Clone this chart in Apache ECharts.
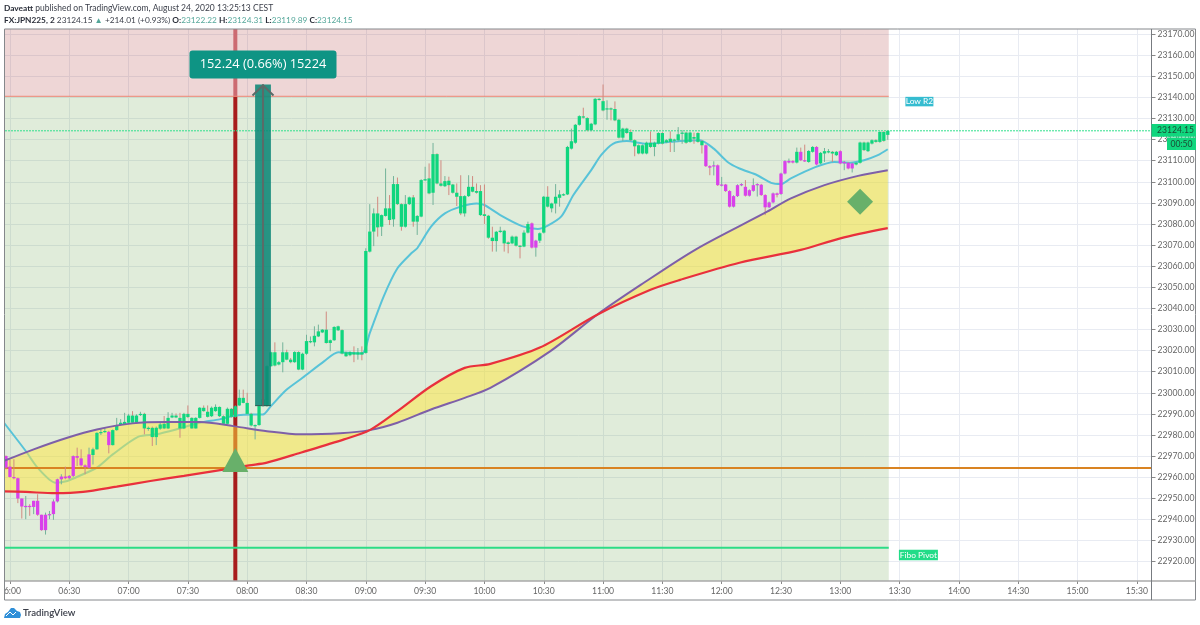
<!DOCTYPE html>
<html>
<head>
<meta charset="utf-8">
<title>FX:JPN225, 2</title>
<script src="https://cdn.jsdelivr.net/npm/echarts@6/dist/echarts.min.js"></script>
<style>
    html, body { margin: 0; padding: 0; background: #fff; }
    #chart { width: 1200px; height: 625px; }
</style>
</head>
<body>
<div id="chart"></div>
<script>
// bars are 2 minutes apart, x values are minutes after midnight
var firstBar = 358;
var barStep = 2;

var opens = [
    22970.0, 22965.0, 22960.1, 22959.5, 22949.9, 22945.8, 22946.4, 22945.9,
    22948.8, 22942.2, 22934.9, 22942.0, 22942.5, 22948.5, 22959.0, 22960.3,
    22959.5, 22960.6, 22970.0, 22968.9, 22965.6, 22964.5, 22970.5, 22973.2,
    22980.9, 22981.4, 22981.5, 22975.2, 22982.3, 22984.7, 22985.0, 22985.8,
    22989.2, 22985.8, 22989.6, 22990.0, 22983.0, 22983.4, 22979.0, 22983.0,
    22985.3, 22983.1, 22988.3, 22989.2, 22988.1, 22983.1, 22990.0, 22988.1,
    22983.1, 22988.1, 22992.9, 22991.0, 22988.9, 22991.3, 22993.3, 22988.9,
    22985.3, 22992.4, 22988.6, 22994.0, 22997.6, 22995.2, 22990.0, 22984.5,
    22984.7, 22993.7, 22993.7, 23012.6, 23019.2, 23013.4, 23014.5, 23019.2,
    23015.7, 23014.5, 23019.3, 23011.0, 23018.5, 23024.0, 23023.9, 23026.7,
    23028.6, 23029.9, 23023.6, 23024.9, 23029.6, 23029.7, 23019.2, 23017.8,
    23019.2, 23018.1, 23019.2, 23018.9, 23066.9, 23076.4, 23085.0, 23078.7,
    23083.8, 23087.4, 23082.2, 23098.9, 23089.4, 23078.7, 23089.4, 23092.6,
    23081.1, 23083.5, 23100.8, 23101.6, 23094.8, 23113.1, 23099.2, 23097.9,
    23100.5, 23098.7, 23094.8, 23093.2, 23085.0, 23093.2, 23097.6, 23095.6,
    23095.6, 23084.6, 23083.9, 23073.5, 23071.9, 23076.2, 23076.8, 23071.3,
    23070.8, 23074.0, 23069.7, 23069.3, 23075.9, 23080.3, 23068.8, 23072.1,
    23075.9, 23092.9, 23087.4, 23089.7, 23092.4, 23093.7, 23094.0, 23115.7,
    23118.5, 23127.0, 23131.0, 23130.2, 23124.4, 23127.2, 23139.3, 23138.2,
    23134.3, 23134.8, 23134.5, 23129.4, 23120.9, 23125.2, 23123.6, 23119.7,
    23117.3, 23113.4, 23113.4, 23118.5, 23116.5, 23118.1, 23123.1, 23118.7,
    23120.4, 23119.7, 23119.7, 23122.8, 23123.3, 23118.9, 23121.2, 23123.1,
    23119.3, 23117.3, 23107.4, 23107.4, 23107.8, 23098.2, 23098.7, 23095.6,
    23088.2, 23093.2, 23098.3, 23097.6, 23093.4, 23095.7, 23098.4, 23098.6,
    23093.7, 23087.9, 23090.2, 23094.5, 23094.2, 23103.9, 23109.1, 23109.8,
    23109.1, 23114.2, 23110.2, 23109.4, 23114.2, 23116.5, 23108.7, 23113.4,
    23113.9, 23114.2, 23112.6, 23114.5, 23108.7, 23109.0, 23106.3, 23108.2,
    23109.0, 23118.6, 23114.5, 23118.1, 23119.7, 23118.9, 23123.6, 23122.22
];
var closes = [
    22964.5, 22960.1, 22959.5, 22949.9, 22946.1, 22946.4, 22945.9, 22948.8,
    22942.2, 22934.9, 22942.2, 22942.5, 22948.5, 22959.0, 22960.3, 22959.5,
    22960.6, 22970.0, 22969.2, 22965.6, 22964.8, 22970.8, 22973.2, 22981.0,
    22981.4, 22981.9, 22975.2, 22982.3, 22984.7, 22985.8, 22986.2, 22989.2,
    22985.8, 22989.2, 22990.0, 22983.1, 22983.4, 22979.0, 22983.4, 22985.0,
    22983.1, 22988.1, 22989.2, 22988.3, 22983.1, 22990.0, 22988.5, 22983.1,
    22988.1, 22992.9, 22991.3, 22988.6, 22992.9, 22993.3, 22988.9, 22985.3,
    22992.4, 22988.6, 22993.6, 22997.6, 22995.2, 22990.0, 22984.5, 22984.7,
    22993.7, 22996.8, 23012.6, 23019.2, 23012.9, 23014.5, 23019.2, 23015.7,
    23014.5, 23019.3, 23011.0, 23018.5, 23024.5, 23024.5, 23027.0, 23029.1,
    23029.9, 23023.6, 23024.9, 23031.2, 23031.5, 23018.6, 23017.3, 23019.3,
    23018.1, 23019.2, 23018.1, 23067.2, 23076.4, 23085.0, 23078.4, 23084.2,
    23087.4, 23081.9, 23098.9, 23089.4, 23078.7, 23089.4, 23092.6, 23081.1,
    23083.8, 23100.8, 23101.2, 23094.5, 23113.1, 23099.2, 23098.1, 23100.3,
    23098.4, 23094.8, 23092.9, 23085.0, 23093.2, 23097.6, 23095.3, 23094.8,
    23084.2, 23083.8, 23073.5, 23071.9, 23076.3, 23076.8, 23070.8, 23070.5,
    23074.0, 23069.7, 23069.3, 23075.9, 23080.0, 23068.8, 23072.1, 23075.6,
    23092.9, 23088.2, 23089.7, 23092.9, 23094.0, 23094.1, 23116.5, 23119.2,
    23127.0, 23131.1, 23130.4, 23124.4, 23127.5, 23139.3, 23138.9, 23133.8,
    23134.8, 23134.3, 23129.1, 23120.9, 23125.2, 23123.1, 23119.7, 23116.8,
    23113.4, 23117.3, 23118.5, 23116.5, 23118.5, 23123.1, 23118.1, 23119.7,
    23118.9, 23120.0, 23122.5, 23123.3, 23118.5, 23123.3, 23120.4, 23118.9,
    23117.3, 23107.4, 23106.7, 23107.8, 23098.4, 23098.7, 23095.6, 23088.2,
    23093.2, 23098.4, 23098.9, 23093.4, 23096.0, 23098.4, 23098.9, 23093.7,
    23087.9, 23090.2, 23094.5, 23093.8, 23103.9, 23109.8, 23109.9, 23109.1,
    23114.2, 23110.2, 23109.8, 23114.6, 23116.5, 23108.2, 23113.7, 23114.5,
    23114.5, 23113.4, 23114.2, 23108.7, 23109.4, 23106.3, 23108.7, 23109.0,
    23118.6, 23115.0, 23118.6, 23119.7, 23118.9, 23123.6, 23119.4, 23124.15
];
var highs = [
    22970.3, 22968.5, 22968.5, 22959.8, 22949.9, 22951.1, 22947.2, 22948.8,
    22951.9, 22942.2, 22943.2, 22944.0, 22949.5, 22959.3, 22961.4, 22965.0,
    22961.0, 22970.3, 22974.0, 22973.2, 22966.1, 22974.0, 22974.0, 22981.3,
    22983.0, 22983.4, 22982.0, 22982.6, 22988.1, 22987.5, 22990.5, 22990.0,
    22991.3, 22989.8, 22991.0, 22990.5, 22984.0, 22984.0, 22984.0, 22986.0,
    22989.0, 22990.8, 22990.5, 22990.2, 22990.5, 22990.5, 22994.0, 22988.4,
    22988.4, 22993.2, 22994.0, 22994.0, 22993.5, 22994.5, 22993.5, 22989.3,
    22993.0, 22992.8, 22994.0, 23001.5, 23001.5, 23000.0, 22990.5, 22985.0,
    22994.0, 22997.2, 23013.0, 23019.5, 23023.9, 23015.0, 23023.9, 23020.4,
    23016.5, 23019.7, 23019.7, 23019.0, 23027.5, 23026.7, 23031.5, 23032.3,
    23030.2, 23038.5, 23025.2, 23031.5, 23031.8, 23030.0, 23019.5, 23019.7,
    23022.0, 23021.2, 23022.0, 23068.5, 23089.4, 23087.4, 23092.9, 23084.5,
    23106.3, 23093.7, 23102.7, 23102.0, 23089.8, 23093.7, 23093.0, 23093.7,
    23084.2, 23101.2, 23107.1, 23108.7, 23118.4, 23113.5, 23110.2, 23102.7,
    23102.4, 23099.0, 23099.2, 23103.1, 23093.6, 23103.1, 23102.7, 23099.2,
    23098.4, 23098.7, 23084.3, 23078.7, 23076.7, 23078.7, 23077.2, 23071.8,
    23074.5, 23074.4, 23070.0, 23077.0, 23081.1, 23080.7, 23072.5, 23076.0,
    23093.3, 23097.9, 23090.1, 23098.9, 23096.0, 23094.5, 23117.0, 23125.2,
    23127.4, 23131.5, 23135.1, 23130.6, 23127.9, 23139.7, 23139.7, 23146.1,
    23138.6, 23135.2, 23138.1, 23129.8, 23125.6, 23125.6, 23124.8, 23120.1,
    23117.7, 23117.7, 23119.0, 23123.9, 23119.0, 23123.5, 23123.5, 23120.2,
    23123.9, 23120.4, 23125.9, 23124.4, 23123.7, 23123.7, 23123.3, 23123.5,
    23119.7, 23117.7, 23107.8, 23109.7, 23108.2, 23102.3, 23099.0, 23096.0,
    23093.6, 23098.8, 23099.3, 23100.8, 23096.4, 23101.6, 23099.3, 23099.0,
    23094.1, 23090.6, 23094.9, 23094.9, 23104.3, 23110.2, 23111.0, 23110.2,
    23116.2, 23116.2, 23117.6, 23115.0, 23116.9, 23116.9, 23114.1, 23116.0,
    23115.5, 23114.6, 23114.6, 23114.9, 23109.9, 23109.4, 23109.1, 23109.4,
    23119.0, 23119.0, 23119.0, 23120.1, 23120.1, 23124.0, 23124.0, 23124.31
];
var lows = [
    22963.7, 22959.8, 22959.0, 22947.7, 22940.4, 22940.1, 22941.7, 22942.5,
    22941.7, 22934.6, 22932.8, 22940.1, 22939.8, 22948.0, 22956.6, 22959.0,
    22959.0, 22960.0, 22965.3, 22965.0, 22961.4, 22964.0, 22966.0, 22973.0,
    22980.0, 22981.0, 22971.3, 22975.0, 22982.0, 22984.5, 22984.8, 22985.5,
    22985.5, 22985.5, 22989.0, 22980.3, 22982.0, 22974.8, 22975.2, 22982.5,
    22982.8, 22982.8, 22988.0, 22988.0, 22978.7, 22982.8, 22988.0, 22983.0,
    22983.0, 22987.8, 22991.0, 22988.3, 22988.5, 22991.0, 22988.5, 22985.0,
    22985.0, 22988.2, 22988.2, 22993.7, 22995.0, 22989.8, 22984.0, 22977.9,
    22984.4, 22993.4, 22993.4, 23012.3, 23012.5, 23013.0, 23009.7, 23015.4,
    23014.0, 23014.2, 23010.7, 23010.7, 23018.0, 23023.5, 23022.0, 23026.4,
    23028.3, 23023.3, 23019.7, 23024.6, 23029.3, 23018.2, 23017.0, 23017.3,
    23014.5, 23015.7, 23015.4, 23018.5, 23066.5, 23069.5, 23074.0, 23074.3,
    23083.5, 23079.5, 23078.7, 23089.0, 23076.8, 23078.3, 23089.0, 23078.7,
    23074.8, 23083.2, 23100.5, 23094.1, 23089.0, 23098.8, 23097.7, 23097.5,
    23093.7, 23094.4, 23088.5, 23084.2, 23083.5, 23092.8, 23095.0, 23094.4,
    23083.8, 23080.0, 23073.0, 23066.9, 23066.9, 23075.8, 23066.9, 23066.1,
    23070.4, 23069.3, 23063.7, 23069.0, 23075.5, 23068.4, 23064.5, 23071.0,
    23075.5, 23087.8, 23085.5, 23085.0, 23088.2, 23093.3, 23093.7, 23115.3,
    23118.0, 23126.6, 23130.0, 23124.0, 23124.0, 23126.8, 23138.5, 23133.4,
    23129.4, 23129.1, 23128.7, 23120.5, 23119.3, 23122.7, 23119.3, 23112.1,
    23113.0, 23113.0, 23113.0, 23116.1, 23112.1, 23117.7, 23117.7, 23118.3,
    23114.1, 23114.1, 23119.0, 23118.0, 23118.0, 23118.5, 23118.0, 23118.5,
    23113.4, 23107.0, 23103.1, 23103.0, 23098.0, 23097.8, 23095.2, 23087.8,
    23087.8, 23092.8, 23097.9, 23093.0, 23093.0, 23095.3, 23093.0, 23093.3,
    23084.2, 23087.5, 23089.8, 23092.6, 23093.8, 23103.5, 23108.7, 23108.7,
    23108.7, 23109.8, 23109.4, 23109.0, 23113.8, 23107.8, 23108.3, 23109.4,
    23113.5, 23109.4, 23112.2, 23108.3, 23105.5, 23105.9, 23104.4, 23107.8,
    23108.6, 23114.6, 23114.1, 23117.7, 23118.5, 23118.5, 23119.0, 23119.89
];
// bar index ranges painted magenta, everything else is green
var magentaRuns = [[0, 21], [26, 26], [133, 134], [177, 199], [201, 202], [205, 205], [211, 214]];

var fastTimes = [357, 368, 374, 383, 389, 397, 404, 412, 425, 434, 444, 456, 466, 474, 483, 488,
    492, 500, 508, 519, 526, 538, 542, 549, 556, 563, 566, 573, 580, 588, 596,
    600, 608, 619, 627, 632, 639, 645, 654, 659, 665, 672, 682, 699, 709, 716, 723,
    729, 738, 745, 750, 755, 767, 777, 785, 792, 799, 804];
var fastValues = [22985.8, 22972.4, 22964.5, 22957.4, 22958.2, 22961.4, 22964.5, 22970.8, 22979.2, 22980.3, 22982.6, 22985.8, 22987.4, 22989.2, 22989.7, 22989.7,
    22993.7, 23001.5, 23007.1, 23015.0, 23019.2, 23018.6, 23028.3, 23045.6, 23059.0, 23066.1, 23068.5, 23078.7, 23085.0, 23088.2, 23089.7,
    23089.0, 23084.2, 23079.0, 23077.6, 23079.2, 23083.7, 23093.7, 23105.5, 23112.6, 23118.0, 23119.3, 23118.0, 23119.3, 23119.7, 23115.7, 23109.4,
    23106.3, 23103.1, 23099.5, 23098.9, 23101.6, 23106.8, 23109.4, 23109.0, 23110.2, 23112.6, 23115.4];

var slowTimes = [357, 372, 389, 404, 422, 439, 456, 473, 490, 507, 527, 542, 556, 573, 590, 603, 633, 657, 679, 707, 743, 755, 772, 789, 804];
var slowValues = [22967.7, 22973.2, 22978.7, 22982.6, 22985.5, 22986.1, 22986.1, 22984.2, 22981.8, 22980.3, 22980.8, 22982.3, 22985.8, 22992.1, 22997.6, 23002.3, 23019.5, 23037.0, 23051.1, 23068.0, 23085.8, 23092.1, 23098.4, 23102.8, 23105.5];

var baseTimes = [357, 368, 383, 397, 414, 431, 448, 464, 481, 490, 507, 529, 542, 556, 573, 590, 603, 628, 657, 684, 699, 729, 760, 780, 804];
var baseValues = [22953.3, 22953.0, 22952.4, 22953.0, 22955.5, 22958.2, 22960.6, 22963.0, 22965.6, 22966.9, 22971.6, 22977.9, 22982.3, 22991.3, 23003.1, 23011.8, 23013.7, 23021.4, 23037.0, 23048.8, 23053.5, 23061.6, 23067.7, 23073.2, 23078.0];

var xMin = 357.5, xMax = 937.4;
var yMin = 22910.8, yMax = 23172.4;
var xTicks = [360, 390, 420, 450, 480, 510, 540, 570, 600, 630, 660, 690, 720, 750, 780, 810, 840, 870, 900, 930];
var yTicks = [22920, 22930, 22940, 22950, 22960, 22970, 22980, 22990, 23000, 23010, 23020, 23030, 23040, 23050,
    23060, 23070, 23080, 23090, 23100, 23110, 23120, 23130, 23140, 23150, 23160, 23170];

var bandEnd = 804.5;
var lowR2 = 23140.5, fiboPivot = 22926.5, orangeLevel = 22964.4, lastPrice = 23124.15;
var entryTime = 474;                // red vertical line and the triangle
var measureLeft = 484, measureRight = 492, measureLow = 22993.9, measureHigh = 23146.14;
var measureText = '152.24 (0.66%) 15224';

function isMagenta(i) {
    return magentaRuns.some(function (r) { return i >= r[0] && i <= r[1]; });
}

var candleData = [];
for (var i = 0; i < opens.length; i++) {
    candleData.push([firstBar + i * barStep, opens[i], closes[i], lows[i], highs[i], isMagenta(i) ? 1 : 0]);
}

function zip(xs, ys) {
    return xs.map(function (x, k) { return [x, ys[k]]; });
}

function flatLine(name, value, right, color, width, z, type) {
    return {
        name: name, type: 'line', z: z, silent: true, symbol: 'none', clip: true,
        data: [[xMin, value], [right, value]],
        lineStyle: { color: color, width: width, type: type || 'solid' }
    };
}

function renderBand(params, api) {
    var a = api.coord([api.value(0), api.value(2)]);
    var b = api.coord([api.value(1), api.value(3)]);
    return {
        type: 'rect',
        shape: { x: a[0], y: a[1], width: b[0] - a[0], height: b[1] - a[1] },
        style: { fill: api.value(4) === 1 ? 'rgba(170,50,50,0.2)' : 'rgba(100,160,70,0.2)' }
    };
}

function renderCandle(params, api) {
    var t = api.value(0), o = api.value(1), c = api.value(2);
    var top = api.coord([t, Math.max(o, c)]);
    var bottom = api.coord([t, Math.min(o, c)]);
    var hi = api.coord([t, api.value(4)]);
    var lo = api.coord([t, api.value(3)]);
    var w = 3.3;
    return {
        type: 'group',
        children: [{
            type: 'line',
            shape: { x1: hi[0], y1: hi[1], x2: lo[0], y2: lo[1] },
            style: { stroke: c >= o ? '#74b39a' : '#d18a80', lineWidth: 1 }
        }, {
            type: 'rect',
            shape: { x: top[0] - w / 2, y: top[1], width: w, height: Math.max(bottom[1] - top[1], 1.2) },
            style: { fill: api.value(5) === 1 ? '#d941ea' : '#10d67e' }
        }]
    };
}

function renderFill(params, api) {
    var pts = [];
    slowTimes.forEach(function (t, k) { pts.push(api.coord([t, slowValues[k]])); });
    for (var k = baseTimes.length - 1; k >= 0; k--) {
        pts.push(api.coord([baseTimes[k], baseValues[k]]));
    }
    return { type: 'polygon', shape: { points: pts }, style: { fill: 'rgba(255,230,59,0.5)' } };
}

function renderMeasure(params, api) {
    var a = api.coord([measureLeft, measureHigh]);
    var b = api.coord([measureRight, measureLow]);
    var mid = (a[0] + b[0]) / 2;
    return {
        type: 'group',
        children: [{
            type: 'rect',
            shape: { x: a[0], y: a[1], width: b[0] - a[0], height: b[1] - a[1] },
            style: { fill: 'rgba(13,135,118,0.88)' }
        }, {
            type: 'line',
            shape: { x1: a[0], y1: b[1], x2: b[0], y2: b[1] },
            style: { stroke: '#2c5a52', lineWidth: 1 }
        }, {
            type: 'line',
            shape: { x1: mid, y1: a[1], x2: mid, y2: b[1] },
            style: { stroke: '#5b6b68', lineWidth: 2 }
        }, {
            type: 'polyline',
            shape: { points: [[mid - 10.5, a[1] + 11], [mid, a[1] + 1], [mid + 10.5, a[1] + 11]] },
            style: { stroke: '#5b6b68', lineWidth: 2, fill: null }
        }, {
            type: 'rect',
            shape: { x: mid - 73.5, y: a[1] - 34, width: 147, height: 28, r: 3 },
            style: { fill: '#0e9484' }
        }, {
            type: 'text',
            style: {
                x: mid, y: a[1] - 20, text: measureText, fill: '#fff', align: 'center', verticalAlign: 'middle',
                font: '12.8px "Open Sans", sans-serif'
            }
        }]
    };
}

var header1 = '{b|Daveatt} published on TradingView.com, August 24, 2020 13:25:13 CEST';
var header2 = '{b|FX:JPN225, 2} 23124.15 {t|▲} +214.01 (+0.93%) {b|O:}{t|23122.22} {b|H:}{t|23124.31} {b|L:}{t|23119.89} {b|C:}{t|23124.15}';
var headerRich = {
    b: { fontWeight: 'bold', fontFamily: 'Lato', fontSize: 8.3, fill: '#2a2e39' },
    t: { fontFamily: 'Lato', fontSize: 8.3, fill: '#53a699' }
};

var chart = echarts.init(document.getElementById('chart'));
chart.setOption({
    animation: false,
    backgroundColor: '#fff',
    grid: { left: 5, top: 29, width: 1146.5, height: 552, show: false, outerBoundsMode: 'none' },
    xAxis: {
        type: 'value', min: xMin, max: xMax,
        axisLine: { show: false },
        axisTick: { length: 3, lineStyle: { color: '#888' }, customValues: xTicks },
        splitLine: { show: true, lineStyle: { color: '#e8ebf2', width: 1 } },
        axisLabel: {
            customValues: xTicks, margin: 6, color: '#666', fontSize: 8.6, fontFamily: 'Lato',
            formatter: function (v) {
                var h = Math.floor(v / 60), m = v % 60;
                return (h < 10 ? '0' : '') + h + ':' + (m < 10 ? '0' : '') + m;
            }
        }
    },
    yAxis: {
        type: 'value', position: 'right', min: yMin, max: yMax,
        axisLine: { show: false },
        axisTick: { length: 4, lineStyle: { color: '#888' }, customValues: yTicks },
        splitLine: { show: true, lineStyle: { color: '#e8ebf2', width: 1 } },
        axisLabel: {
            customValues: yTicks, margin: 6, color: '#666', fontSize: 8.6, fontFamily: 'Lato',
            formatter: function (v) { return v.toFixed(2); }
        }
    },
    series: [
        {
            name: 'zones', type: 'custom', z: 1, silent: true, clip: true, renderItem: renderBand,
            data: [[xMin, bandEnd, yMax, lowR2, 1], [xMin, bandEnd, lowR2, yMin, 0]]
        },
        {
            name: 'entry', type: 'line', z: 2, silent: true, symbol: 'none',
            data: [[entryTime, yMin], [entryTime, lowR2]],
            lineStyle: { color: '#a81c1c', width: 4 }
        },
        {
            name: 'entry top', type: 'line', z: 2, silent: true, symbol: 'none',
            data: [[entryTime, lowR2], [entryTime, yMax]],
            lineStyle: { color: '#cc6b72', width: 4 }
        },
        {
            name: 'fast', type: 'line', z: 3, silent: true, symbol: 'none', smooth: 0.25, clip: true,
            data: zip(fastTimes, fastValues), lineStyle: { color: '#58c3d8', width: 2 }
        },
        { name: 'fill', type: 'custom', z: 4, silent: true, clip: true, renderItem: renderFill, data: [[0]] },
        flatLine('orange', orangeLevel, xMax, '#d98322', 2, 5),
        flatLine('Fibo Pivot', fiboPivot, bandEnd, '#2ddc86', 2, 5),
        flatLine('Low R2', lowR2, bandEnd, '#ef8575', 1, 5),
        flatLine('price', lastPrice, xMax, '#2fe08c', 1, 5, [2, 1]),
        { name: 'bars', type: 'custom', z: 6, silent: true, clip: true, renderItem: renderCandle, data: candleData },
        { name: 'measure', type: 'custom', z: 7, silent: true, renderItem: renderMeasure, data: [[0]] },
        {
            name: 'slow', type: 'line', z: 8, silent: true, symbol: 'none', smooth: 0.3, clip: true,
            data: zip(slowTimes, slowValues), lineStyle: { color: '#7e5fa8', width: 2 }
        },
        {
            name: 'base', type: 'line', z: 8, silent: true, symbol: 'none', smooth: 0.3, clip: true,
            data: zip(baseTimes, baseValues), lineStyle: { color: '#e9303c', width: 2.2 }
        },
        {
            name: 'signals', type: 'scatter', z: 9, silent: true,
            data: [
                { value: [entryTime, 22968.1], symbol: 'triangle', symbolSize: [26, 24] },
                { value: [790, 23090.5], symbol: 'diamond', symbolSize: 26 }
            ],
            itemStyle: { color: '#68b06a', opacity: 1 }
        },
        {
            name: 'pivot labels', type: 'scatter', z: 9, silent: true, symbol: 'rect',
            data: [
                {
                    value: [820, 23138], symbolSize: [28, 9.5], itemStyle: { color: '#35bcd0', opacity: 1 },
                    label: { formatter: 'Low R2' }
                },
                {
                    value: [819.5, 22923.1], symbolSize: [39, 10.5], itemStyle: { color: '#22dc88', opacity: 1 },
                    label: { formatter: 'Fibo Pivot' }
                }
            ],
            label: { show: true, position: 'inside', color: '#fff', fontSize: 8.4, fontFamily: 'Lato' }
        }
    ],
    graphic: [
        { type: 'rect', z: 100, shape: { x: 0, y: 583, width: 4.5, height: 16 }, style: { fill: '#fff' } },
        { type: 'rect', z: 100, shape: { x: 4.5, y: 29, width: 1191, height: 571 }, style: { fill: null, stroke: '#85888c', lineWidth: 1 } },
        { type: 'line', z: 100, shape: { x1: 5, y1: 581, x2: 1195.5, y2: 581 }, style: { stroke: '#a9a9a9', lineWidth: 1.6 } },
        { type: 'line', z: 100, shape: { x1: 1151.5, y1: 29, x2: 1151.5, y2: 600 }, style: { stroke: '#777b80', lineWidth: 1 } },
        { type: 'rect', z: 101, shape: { x: 1151.5, y: 124, width: 44.5, height: 12.7 }, style: { fill: '#10d67e' } },
        { type: 'rect', z: 101, shape: { x: 1167, y: 137.5, width: 29, height: 12.5 }, style: { fill: '#10d67e' } },
        { type: 'text', z: 102, style: { x: 1157, y: 130.5, text: '23124.15', fill: '#1b4a34', verticalAlign: 'middle', font: '8.6px Lato' } },
        { type: 'text', z: 102, style: { x: 1170.5, y: 144, text: '00:50', fill: '#1b4a34', verticalAlign: 'middle', font: '8.6px Lato' } },
        { type: 'text', z: 102, style: { x: 4, y: 8, text: header1, rich: headerRich, fill: '#3a3e49', verticalAlign: 'middle', font: '8.5px Lato' } },
        { type: 'text', z: 102, style: { x: 4, y: 20, text: header2, rich: headerRich, fill: '#3a3e49', verticalAlign: 'middle', font: '8.3px Lato' } },
        // small cloud logo
        {
            type: 'polygon', z: 102,
            shape: { points: [[4, 618], [5, 614], [8, 612], [11, 608], [14, 608], [17, 611], [20, 612], [21, 615], [20, 618]] },
            style: { fill: '#2f8fd8' }
        },
        { type: 'polyline', z: 103, shape: { points: [[6, 616], [10, 612], [13, 615], [16, 612]] }, style: { stroke: '#fff', lineWidth: 1, fill: null } },
        { type: 'text', z: 102, style: { x: 23, y: 612.5, text: 'TradingView', fill: '#3a3e49', verticalAlign: 'middle', font: '600 9.6px Lato' } }
    ]
});
</script>
</body>
</html>
